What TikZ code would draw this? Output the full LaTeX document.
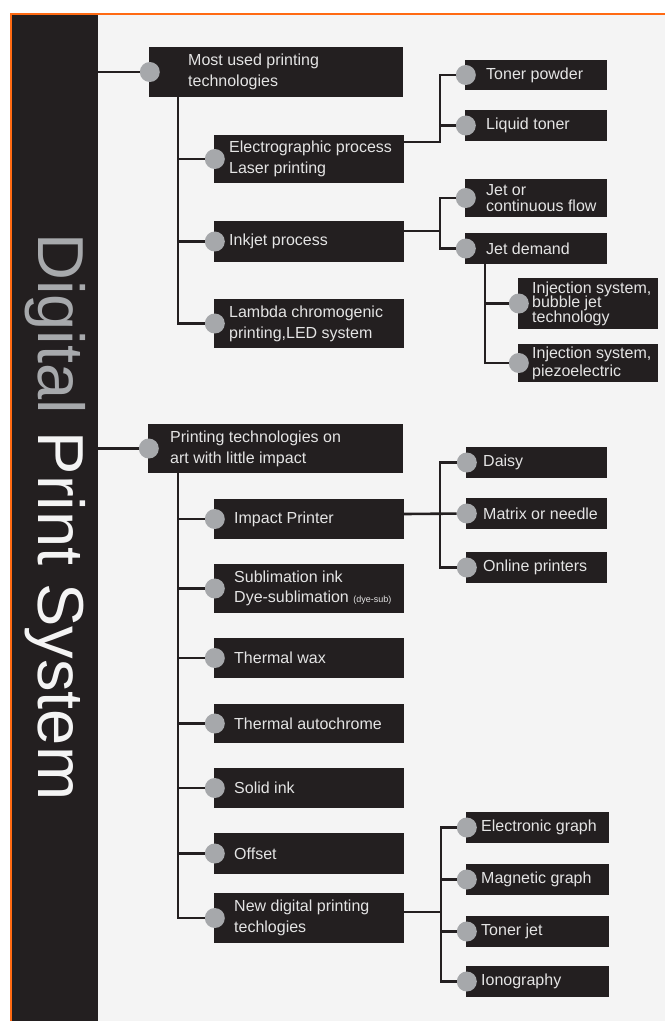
\documentclass[tikz,border=0pt]{standalone}
\usepackage{fontspec}
\setmainfont{Liberation Sans}
\definecolor{bgc}{HTML}{F4F4F4}
\definecolor{orangec}{HTML}{FF6A13}
\definecolor{boxc}{HTML}{231F20}
\definecolor{dotc}{HTML}{A6A8AB}
\definecolor{txtc}{HTML}{E4E4E4}
\definecolor{titlegray}{HTML}{A7A9AC}
\definecolor{titlewhite}{HTML}{F4F4F4}
\tikzset{
  boxs/.style={rectangle, fill=boxc, draw=none, inner sep=0pt},
  lbl/.style={anchor=west, align=left, inner sep=0pt, text=txtc, font=\fontsize{16}{21}\selectfont},
  dot/.style={circle, fill=dotc, draw=none, minimum size=20pt, inner sep=0pt},
  conn/.style={line width=2.6pt, draw=boxc},
}
\newcommand\mkbox[7]{%
  \node[boxs, minimum width={#4-#2}, minimum height={#5-#3}] (#1) at ({(#2+#4)/2},{(#3+#5)/2}) {};
  \node[lbl] (#1t) at (#6,{(#3+#5)/2}) {#7};
}
\newcommand\mkdot[1]{\node[dot] (#1c) at ([xshift=1pt]#1.west) {};}
\begin{document}
\begin{tikzpicture}[x=1pt,y=-1pt]
\useasboundingbox (0,0) rectangle (665,1021);
\fill[white] (0,0) rectangle (665,1021);
\fill[bgc] (12,15) rectangle (665,1021);
\fill[orangec] (10,13) rectangle (665,15);
\fill[orangec] (10,13) rectangle (12,1021);
\node[boxs, minimum width=86pt, minimum height=1006pt] (bar) at (55,518) {};
\node[rotate=-90, anchor=base west, inner sep=0pt, font=\fontsize{65}{65}\selectfont, text=titlewhite] (title) at (38,233)
  {{\color{titlegray}Digital} Print System};

% group 1
\mkbox{n1}{149}{47}{403}{97}{188}{Most used printing\\technologies}
\mkbox{ea}{214}{135}{404}{183}{229}{Electrographic process\\Laser printing}
\mkbox{eb}{214}{221}{404}{262}{229}{Inkjet process}
\mkbox{ec}{214}{299}{404}{348}{229}{Lambda chromogenic\\printing,LED system}
\mkbox{tp}{465}{60}{607}{90}{486}{Toner powder}
\mkbox{lt}{465}{110}{607}{141}{486}{Liquid toner}
\mkbox{jc}{465}{179}{607}{217}{486}{Jet or\\[-4.5pt]continuous flow}
\mkbox{jd}{465}{233}{607}{264}{486}{Jet demand}
\mkbox{ib}{518}{278}{658}{329}{532}{Injection system,\\[-6.5pt]bubble jet\\[-6.5pt]technology}
\mkbox{ip}{518}{344}{658}{382}{532}{Injection system,\\[-3pt]piezoelectric}

% group 2
\mkbox{n2}{148}{424}{403}{473}{170}{Printing technologies on\\art with little impact}
\mkbox{fa}{214}{499}{404}{539}{234}{Impact Printer}
\mkbox{fb}{214}{564}{404}{613}{234}{Sublimation ink\\[-1pt]Dye-sublimation {\fontsize{9}{10}\selectfont (dye-sub)}}
\mkbox{fc}{214}{638}{404}{678}{234}{Thermal wax}
\mkbox{fd}{214}{704}{404}{743}{234}{Thermal autochrome}
\mkbox{fe}{214}{768}{404}{808}{234}{Solid ink}
\mkbox{ff}{214}{833}{404}{874}{234}{Offset}
\mkbox{fg}{214}{893}{404}{943}{234}{New digital printing\\techlogies}
\mkbox{da}{466}{447}{607}{478}{483}{Daisy}
\mkbox{db}{466}{498}{607}{529}{483}{Matrix or needle}
\mkbox{dc}{466}{552}{607}{583}{483}{Online printers}
\mkbox{ga}{466}{812}{609}{843}{481}{Electronic graph}
\mkbox{gb}{466}{864}{609}{895}{481}{Magnetic graph}
\mkbox{gc}{466}{916}{609}{947}{481}{Toner jet}
\mkbox{gd}{466}{966}{609}{997}{481}{Ionography}

\foreach \n in {n1,ea,eb,ec,tp,lt,jc,jd,ib,ip,n2,fa,fb,fc,fd,fe,ff,fg,da,db,dc,ga,gb,gc,gd}{\mkdot{\n}}

% junction coordinates
\coordinate (t1) at (178,97);
\coordinate (j1) at (440,142);
\coordinate (j2) at (440,231);
\coordinate (t3) at (485,264);
\coordinate (t2) at (178,473);
\coordinate (j3) at (440,514);
\coordinate (j4) at (441,912);

% connectors group 1
\draw[conn] (bar.east |- n1c) -- (n1c);
\draw[conn] (t1) |- (eac);
\draw[conn] (t1) |- (ebc);
\draw[conn] (t1) |- (ecc);
\draw[conn] (ea.east |- j1) -- (j1) |- (tpc);
\draw[conn] (j1) |- (ltc);
\draw[conn] (eb.east |- j2) -- (j2) |- (jcc);
\draw[conn] (j2) |- (jdc);
\draw[conn] (t3) |- (ibc);
\draw[conn] (t3) |- (ipc);

% connectors group 2
\draw[conn] (bar.east |- n2c) -- (n2c);
\foreach \n in {fa,fb,fc,fd,fe,ff,fg}{\draw[conn] (t2) |- (\n c);}
\draw[conn] (fa.east |- j3) -- (dbc);
\draw[conn] (j3) |- (dac);
\draw[conn] (j3) |- (dcc);
\draw[conn] (fg.east |- j4) -- (j4);
\foreach \n in {ga,gb,gc,gd}{\draw[conn] (j4) |- (\n c);}
\end{tikzpicture}
\end{document}
